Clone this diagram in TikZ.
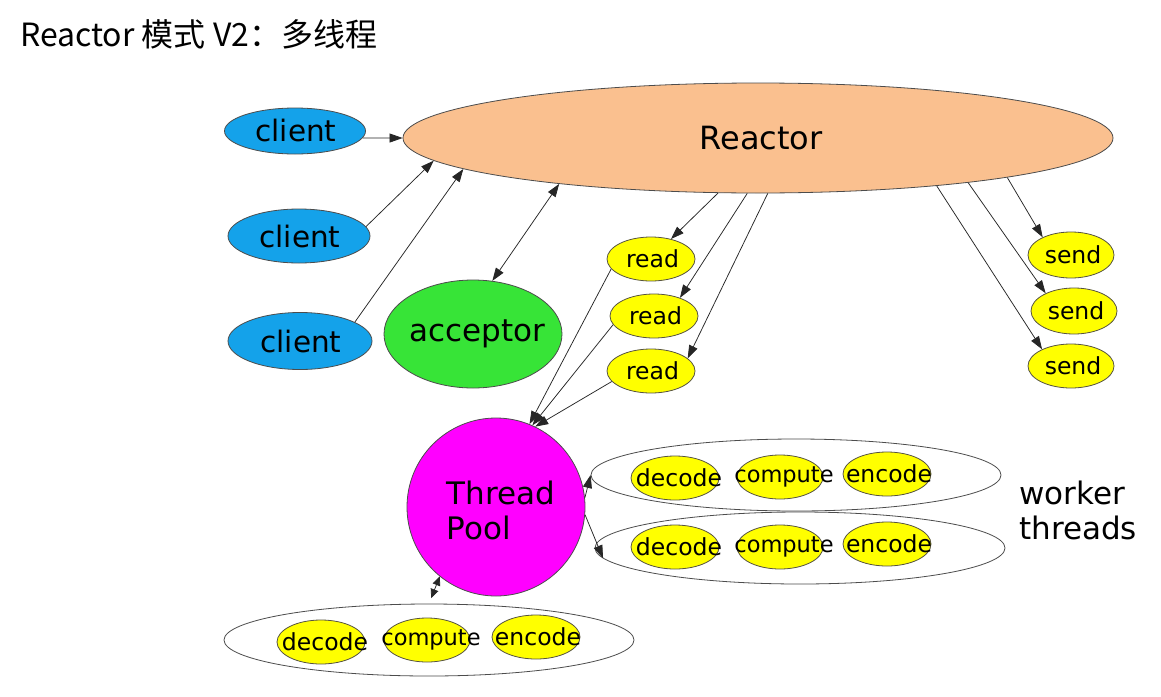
\documentclass[tikz,border=0pt]{standalone}
\usepackage{fontspec}
\setmainfont{DejaVu Sans}
\newfontfamily\cjkfont{Noto Sans CJK SC}
\usetikzlibrary{shapes.geometric,arrows.meta}
\definecolor{peach}{RGB}{250,192,143}
\definecolor{cblue}{RGB}{20,162,234}
\definecolor{agreen}{RGB}{55,228,55}
\definecolor{yel}{RGB}{255,255,0}
\definecolor{mag}{RGB}{255,0,255}
\begin{document}
\begin{tikzpicture}[x=1pt,y=-1pt,
  ell/.style={ellipse,draw=black!70,line width=0.8pt,inner sep=0pt},
  cl/.style={ell,fill=cblue,minimum width=142,minimum height=50,font=\fontsize{29.5}{34}\selectfont},
  yl/.style={ell,fill=yel,draw=black!60!yellow!60!black,minimum width=88,minimum height=44,font=\fontsize{23.5}{26}\selectfont},
  wk/.style={yl,font=\fontsize{23.5}{27}\selectfont},
  cmp/.style={wk,minimum width=86,font=\fontsize{22.5}{27}\selectfont},
  grp/.style={ell,minimum width=410,minimum height=72},
  arr/.style={draw=black!85,line width=0.75pt,-{Triangle[length=13pt,width=9pt]}},
  darr/.style={draw=black!85,line width=0.75pt,{Triangle[length=13pt,width=9pt]}-{Triangle[length=13pt,width=9pt]}},
  sdarr/.style={draw=black!85,line width=0.75pt,{Triangle[length=9pt,width=8pt]}-{Triangle[length=9pt,width=8pt]}},
  big/.style={font=\fontsize{31}{35}\selectfont}
]
\path[use as bounding box,fill=white] (0,0) rectangle (1161,696);

% title
\node[anchor=west,inner sep=0pt,font=\cjkfont\fontsize{32}{38}\selectfont] (title) at (20,34) {Reactor 模式 V2：多线程};

% reactor
\node[ell,fill=peach,minimum width=710,minimum height=110,font=\fontsize{32}{36}\selectfont] (R) at (758,138) {\makebox[0pt]{\hspace*{6pt}Reactor}};

% clients
\node[cl,minimum width=141,minimum height=46] (c1) at (295,131) {\makebox[0pt]{\hspace*{2pt}client}};
\node[cl,minimum width=142,minimum height=54] (c2) at (299,236) {\makebox[0pt]{\hspace*{2pt}client}};
\node[cl,minimum width=144,minimum height=57] (c3) at (300,341) {\makebox[0pt]{\hspace*{2pt}client}};

% acceptor
\node[ell,fill=agreen,minimum width=178,minimum height=108,big] (acc) at (473,334) {\makebox[0pt]{\hspace*{8pt}acceptor}};

% read / send
\node[yl] (r1) at (651,259) {\makebox[0pt]{\hspace*{3pt}read}};
\node[yl] (r2) at (654,316) {\makebox[0pt]{\hspace*{3pt}read}};
\node[yl] (r3) at (651,371) {\makebox[0pt]{\hspace*{3pt}read}};
\node[yl,minimum width=86,minimum height=46] (s1) at (1071,255) {\makebox[0pt]{\hspace*{4pt}send}};
\node[yl,minimum width=86,minimum height=46] (s2) at (1074,311) {\makebox[0pt]{\hspace*{4pt}send}};
\node[yl,minimum width=86,minimum height=44] (s3) at (1071,366) {\makebox[0pt]{\hspace*{4pt}send}};

% thread pool
\node[circle,draw=black!70,line width=0.8pt,fill=mag,minimum size=178,inner sep=0pt] (TP) at (496,507) {};
\node[big,align=left,inner sep=0pt] (tpl) at (501,510) {Thread\\Pool};

% worker groups
\node[grp] (W1) at (796,475) {};
\node[grp] (W2) at (800,548) {};
\node[grp] (B) at (429,640) {};
\node[wk] (d1) at (675,478) {\makebox[0pt]{\hspace*{8pt}decode}};
\node[cmp] (m1) at (780,477) {\makebox[0pt]{\hspace*{8pt}compute}};
\node[wk] (e1) at (887,474) {\makebox[0pt]{\hspace*{4pt}encode}};
\node[wk] (d2) at (675,547) {\makebox[0pt]{\hspace*{8pt}decode}};
\node[cmp] (m2) at (780,547) {\makebox[0pt]{\hspace*{8pt}compute}};
\node[wk] (e2) at (887,544) {\makebox[0pt]{\hspace*{4pt}encode}};
\node[wk] (d3) at (321,642) {\makebox[0pt]{\hspace*{8pt}decode}};
\node[cmp] (m3) at (427,640) {\makebox[0pt]{\hspace*{8pt}compute}};
\node[wk] (e3) at (536,637) {\makebox[0pt]{\hspace*{4pt}encode}};

\node[big,align=left,inner sep=0pt,anchor=west] (wt) at (1019,510) {worker\\threads};

% connectors
\draw[arr] (c1.-6) -- (R.west);
\draw[arr] (c2.8) -- (R.184);
\draw[arr] (c3.19) -- (R.186);
\draw[darr] (R.193) -- (acc.70);
\draw[arr] (R.234) -- (r1.45);
\draw[arr] (R.259) -- (r2.35);
\draw[arr] (R.280) -- (r3.19);
\draw[arr] (R.351) -- (s1.148);
\draw[arr] (R.348) -- (s2.148);
\draw[arr] (R.345.7) -- (s3.150);
\draw[arr] (r1.194) -- (TP.68);
\draw[arr] (r2.192) -- (TP.66);
\draw[arr] (r3.195) -- (TP.64);
\draw[arr] (TP.6) -- (W1.west);
\draw[arr] (TP.-5) -- (W2.183);
\draw[sdarr,shorten >=6pt] (TP.231) -- (B.north);
\end{tikzpicture}
\end{document}
